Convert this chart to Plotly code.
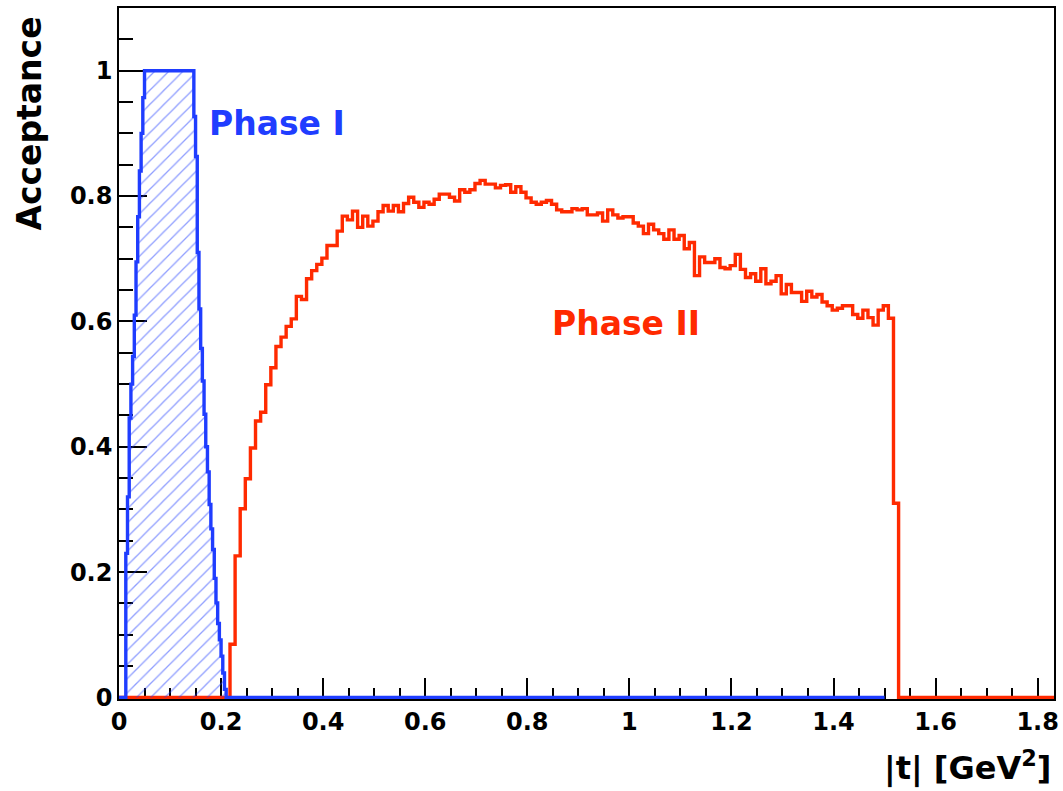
import plotly.graph_objects as go

# ---------------- data ----------------
# Phase II acceptance: histogram, bins of 0.01 GeV^2 starting at |t| = 0.2175
phase2_bin_start = 0.2175
phase2_bin_width = 0.01
phase2_acceptance = [
    0.085, 0.226, 0.301, 0.349, 0.398, 0.441, 0.455, 0.499, 0.526, 0.560,
    0.575, 0.592, 0.604, 0.640, 0.635, 0.668, 0.681, 0.691, 0.701, 0.721,
    0.721, 0.744, 0.768, 0.762, 0.776, 0.750, 0.768, 0.752, 0.760, 0.775,
    0.785, 0.776, 0.785, 0.775, 0.788, 0.798, 0.790, 0.782, 0.790, 0.787,
    0.795, 0.803, 0.803, 0.798, 0.792, 0.810, 0.806, 0.810, 0.820, 0.825,
    0.819, 0.819, 0.813, 0.817, 0.818, 0.806, 0.815, 0.806, 0.797, 0.790,
    0.787, 0.790, 0.793, 0.787, 0.778, 0.775, 0.775, 0.780, 0.778, 0.780,
    0.770, 0.770, 0.773, 0.760, 0.778, 0.770, 0.765, 0.767, 0.767, 0.757,
    0.752, 0.740, 0.755, 0.746, 0.740, 0.731, 0.746, 0.731, 0.737, 0.716,
    0.726, 0.673, 0.703, 0.694, 0.694, 0.700, 0.686, 0.684, 0.689, 0.707,
    0.683, 0.670, 0.676, 0.664, 0.684, 0.660, 0.664, 0.673, 0.644, 0.659,
    0.646, 0.646, 0.632, 0.648, 0.639, 0.643, 0.631, 0.625, 0.618, 0.621,
    0.625, 0.625, 0.611, 0.605, 0.618, 0.606, 0.594, 0.618, 0.625, 0.605,
    0.310,
]
phase2_hist_range = [0.0, 1.832]

# Phase I acceptance: fine histogram, bins of 1/300 GeV^2, first filled bin index 4
phase1_bin_width = 1.0 / 300.0
phase1_first_bin = 4
phase1_acceptance = [
    0.23, 0.32, 0.446, 0.50, 0.544, 0.61, 0.695, 0.767, 0.84, 0.90, 0.957,
    1.0, 1.0, 1.0, 1.0, 1.0, 1.0, 1.0, 1.0, 1.0, 1.0,
    1.0, 1.0, 1.0, 1.0, 1.0, 1.0, 1.0, 1.0, 1.0, 1.0,
    1.0, 1.0, 1.0, 1.0, 1.0, 1.0, 1.0, 1.0, 1.0,
    0.927, 0.863, 0.71, 0.62, 0.557, 0.505, 0.452, 0.40, 0.36, 0.308,
    0.269, 0.236, 0.19, 0.151, 0.118, 0.092, 0.066, 0.039, 0.013,
]
phase1_hist_range = [0.0, 1.5]

x_tick_values = [0, 0.2, 0.4, 0.6, 0.8, 1.0, 1.2, 1.4, 1.6, 1.8]
y_tick_values = [0, 0.2, 0.4, 0.6, 0.8, 1.0]
x_range = [0.0, 1.832]
y_range = [-0.0024, 1.1]   # tiny pad so the zero-level histogram lines are not clipped

x_title = "|t| [GeV<sup>2</sup>]"
y_title = "Acceptance"
label_phase1 = "Phase I"
label_phase2 = "Phase II"

# ---------------- styling ----------------
RED = "#ff2a00"
BLUE = "#1f3dff"
FONT = "DejaVu Sans"


def step_points(lo, hi, start, width, values):
    """Outline of a histogram (zero outside the filled bins) for an 'hv' line."""
    n = len(values)
    xs = [lo] + [start + i * width for i in range(n)] + [start + n * width, hi]
    ys = [0.0] + list(values) + [0.0, 0.0]
    return xs, ys


rx, ry = step_points(phase2_hist_range[0], phase2_hist_range[1],
                     phase2_bin_start, phase2_bin_width, phase2_acceptance)
bx, by = step_points(phase1_hist_range[0], phase1_hist_range[1],
                     phase1_first_bin * phase1_bin_width, phase1_bin_width,
                     phase1_acceptance)

fig = go.Figure()
fig.add_trace(go.Scatter(
    x=rx, y=ry, mode="lines", line=dict(color=RED, width=3.4, shape="hv"),
    hoverinfo="skip", name="Phase II"))
fig.add_trace(go.Scatter(
    x=bx, y=by, mode="lines", line=dict(color=BLUE, width=3.4, shape="hv"),
    fill="tozeroy", fillcolor="rgba(0,0,0,0)",
    fillpattern=dict(shape="/", fgcolor=BLUE, bgcolor="rgba(0,0,0,0)",
                     size=10, solidity=0.13),
    hoverinfo="skip", name="Phase I"))

axis_common = dict(
    showgrid=False, zeroline=False, showline=True, linecolor="black",
    linewidth=1.5, mirror=True, ticks="inside", tickcolor="black",
    tickwidth=1.5, layer="below traces",
    tickfont=dict(family=FONT, size=24, color="black", weight="bold"),
)

fig.update_xaxes(range=x_range, tickvals=x_tick_values, ticklen=21,
                 minor=dict(dtick=0.05, tick0=0, ticks="inside", ticklen=11,
                            tickcolor="black", tickwidth=1.5, showgrid=False),
                 **axis_common)
fig.update_yaxes(range=y_range, tickvals=y_tick_values, ticklen=28,
                 ticklabelstandoff=0,
                 minor=dict(dtick=0.05, tick0=0, ticks="inside", ticklen=14,
                            tickcolor="black", tickwidth=1.5, showgrid=False),
                 **axis_common)

fig.update_layout(
    width=1063, height=791,
    margin=dict(l=119, r=4, t=8, b=92),
    plot_bgcolor="white", paper_bgcolor="white",
    showlegend=False,
    annotations=[
        dict(text=label_phase1, x=0.1725, y=0.915, xref="x", yref="y",
             xanchor="left", yanchor="middle", showarrow=False,
             font=dict(family=FONT, size=33, color=BLUE, weight="bold")),
        dict(text=label_phase2, x=0.845, y=0.597, xref="x", yref="y",
             xanchor="left", yanchor="middle", showarrow=False,
             font=dict(family=FONT, size=33, color=RED, weight="bold")),
        dict(text=x_title, x=0.999, y=-0.097, xref="paper", yref="paper",
             xanchor="right", yanchor="middle", showarrow=False,
             font=dict(family=FONT, size=32, color="black", weight="bold")),
        dict(text=y_title, x=-0.0957, y=0.832, xref="paper", yref="paper",
             xanchor="center", yanchor="middle", textangle=-90, showarrow=False,
             font=dict(family=FONT, size=33, color="black", weight="bold")),
    ],
)

fig.write_html("out.html")
